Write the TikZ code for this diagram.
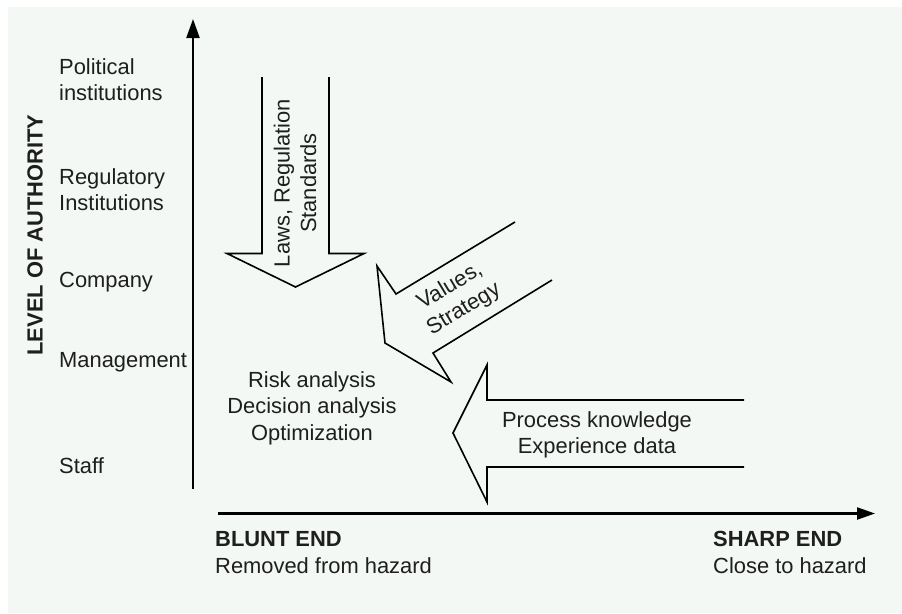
\documentclass[tikz,border=0pt]{standalone}
\usepackage{fontspec}
\setmainfont{Liberation Sans}
\usetikzlibrary{arrows.meta}
\definecolor{bgc}{RGB}{244,248,245}
\definecolor{txt}{RGB}{30,30,30}
\begin{document}
\begin{tikzpicture}[x=1pt,y=-1pt,
  lbl/.style={inner sep=0pt,text=txt,font=\fontsize{21.9}{26.5}\selectfont},
  bold/.style={lbl,font=\fontsize{21.9}{26.5}\selectfont\bfseries},
  axis/.style={line width=2.3pt,black},
  bigarrow/.style={line width=1.6pt,black,line join=miter}]
\useasboundingbox (0,0) rectangle (902,613);
\fill[white] (0,0) rectangle (902,613);
\fill[bgc] (8,7) rectangle (902,613);
% axes
\coordinate (yb) at (193,489);
\coordinate (yt) at (193,19);
\coordinate (xl) at (218,513.5);
\coordinate (xr) at (875,513.5);
\draw[axis,-{Triangle[length=19pt,width=13pt]}] (yb) -- (yt);
\draw[axis,-{Triangle[length=18pt,width=12pt]}] (xl) -- (xr);
% axis labels
\node[bold,rotate=90] (auth) at (35,235) {LEVEL OF AUTHORITY};
\node[bold,anchor=base west] (blunt) at (215,546) {BLUNT END};
\node[lbl,anchor=base west] (blunt2) at (215,573) {Removed from hazard};
\node[bold,anchor=base west] (sharp) at (713,546) {SHARP END};
\node[lbl,anchor=base west] (sharp2) at (713,573) {Close to hazard};
% levels
\node[lbl,anchor=base west] (pol1) at (59,74) {Political};
\node[lbl,anchor=base west] (pol2) at (59,100) {institutions};
\node[lbl,anchor=base west] (reg1) at (59,184) {Regulatory};
\node[lbl,anchor=base west] (reg2) at (59,210) {Institutions};
\node[lbl,anchor=base west] (comp) at (59,287) {Company};
\node[lbl,anchor=base west] (mgmt) at (59,367) {Management};
\node[lbl,anchor=base west] (staff) at (59,473) {Staff};
% big arrows
\draw[bigarrow] (262,77) -- (262,253.5) -- (227,253.5) -- (295.5,287) -- (364,253.5) -- (329,253.5) -- (329,77);
\draw[bigarrow] (515,222) -- (396,294) -- (377,266) -- (385,343) -- (451,382) -- (433,353) -- (552,280);
\draw[bigarrow] (744,400) -- (487,400) -- (487,365) -- (453,433) -- (487,502) -- (487,467) -- (744,467);
% arrow texts
\node[lbl,rotate=90,align=center] (laws) at (295,183) {Laws, Regulation\\Standards};
\node[lbl,rotate=31,align=center] (values) at (457,298) {Values,\\Strategy};
\node[lbl,anchor=base] (proc1) at (597,427) {Process knowledge};
\node[lbl,anchor=base] (proc2) at (597,453) {Experience data};
% centre texts
\node[lbl,anchor=base] (risk1) at (312,387) {Risk analysis};
\node[lbl,anchor=base] (risk2) at (312,413) {Decision analysis};
\node[lbl,anchor=base] (risk3) at (312,440) {Optimization};
\end{tikzpicture}
\end{document}
